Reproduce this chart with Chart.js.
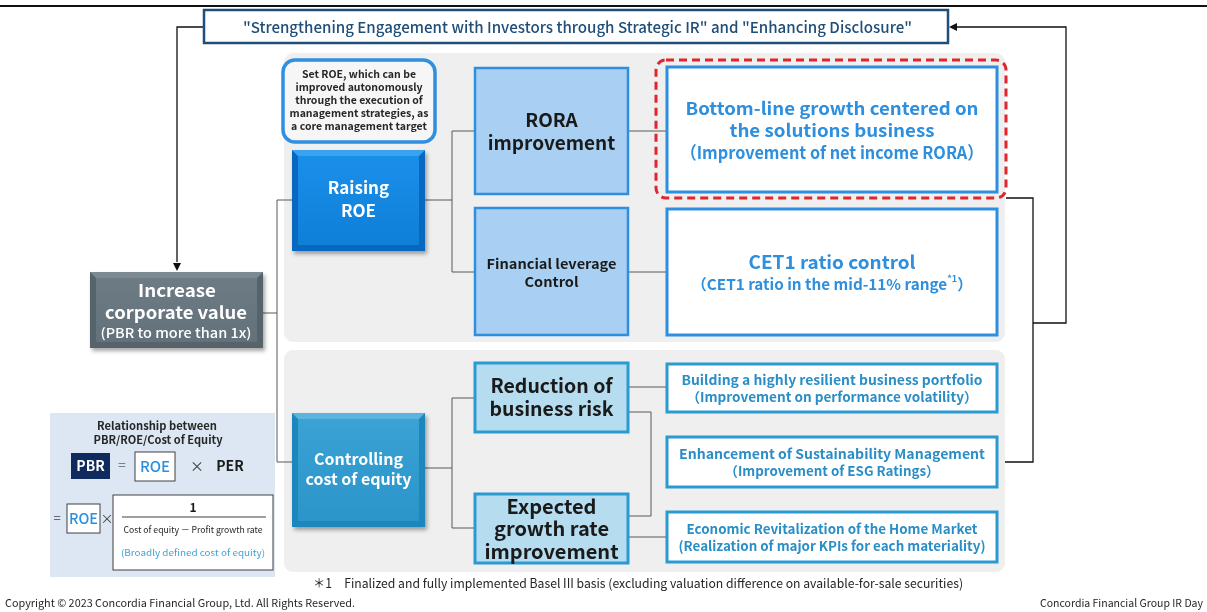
<!DOCTYPE html>
<html>
<head>
<meta charset="utf-8">
<script src="https://cdn.jsdelivr.net/npm/chart.js@4.4.1/dist/chart.umd.min.js"></script>
<style>
  html, body { margin: 0; padding: 0; background: #fff; }
  #wrap { width: 1207px; height: 612px; }
</style>
</head>
<body>
<div id="wrap"><canvas id="diagramChart" width="1207" height="612"></canvas></div>
<script>
// texts of the diagram
const headerText = '"Strengthening Engagement with Investors through Strategic IR" and "Enhancing Disclosure"';
const goalLines = ['Increase', 'corporate value', '(PBR to more than 1x)'];
const calloutLines = ['Set ROE, which can be', 'improved autonomously', 'through the execution of', 'management strategies, as', 'a core management target'];
const leverLines = [['Raising', 'ROE'], ['Controlling', 'cost of equity']];
const roeDrivers = [['RORA', 'improvement'], ['Financial leverage', 'Control']];
const roeTargets = [
  ['Bottom-line growth centered on', 'the solutions business', '（Improvement of net income RORA）'],
  ['CET1 ratio control', '（CET1 ratio in the mid-11% range*1）']
];
const coeDrivers = [['Reduction of', 'business risk'], ['Expected', 'growth rate', 'improvement']];
const coeTargets = [
  ['Building a highly resilient business portfolio', '（Improvement on performance volatility）'],
  ['Enhancement of Sustainability Management', '（Improvement of ESG Ratings）'],
  ['Economic Revitalization of the Home Market', '(Realization of major KPIs for each materiality)']
];
const formulaTitle = ['Relationship between', 'PBR/ROE/Cost of Equity'];
const formulaTerms = ['PBR', 'ROE', 'PER', '1', 'Cost of equity － Profit growth rate', '(Broadly defined cost of equity)'];
const footnote = '＊1　Finalized and fully implemented Basel III basis (excluding valuation difference on available-for-sale securities)';
const copyright = 'Copyright © 2023 Concordia Financial Group, Ltd. All Rights Reserved.';
const eventName = 'Concordia Financial Group IR Day';

// layout in axis units (x0, y0, x1, y1)
const layout = {
  header: [204, 10, 948, 43],
  panels: [[284, 53, 1005, 342], [284, 350, 1005, 572]],
  callout: [283, 60, 435, 142],
  goal: [90, 272, 263, 348],
  levers: [[292, 150, 425, 251], [292, 413, 425, 527]],
  roeDrivers: [[475, 68, 628, 194], [475, 208, 628, 335]],
  focus: [656, 60, 1006, 198],
  roeTargets: [[667, 67, 997, 192], [667, 209, 997, 335]],
  coeDrivers: [[475, 363, 628, 432], [475, 494, 628, 563]],
  coeTargets: [[667, 364, 997, 412], [667, 437, 997, 487], [667, 512, 997, 562]],
  formula: [50, 413, 275, 577]
};
// measured text widths of the original lines, px
const roeTargetWidths = [[293, 205, 303], [167, 281]];
const coeTargetWidths = [[301, 291], [306, 215], [291, 307]];

const JP = '"Noto Sans CJK JP", "Noto Sans", sans-serif';

const diagram = {
  id: 'diagram',
  afterDatasetsDraw(chart) {
    const { ctx, scales: { x, y } } = chart;
    const X = v => x.getPixelForValue(v);
    const Y = v => y.getPixelForValue(v);

    const path = (pts) => {
      ctx.beginPath();
      pts.forEach((p, i) => i ? ctx.lineTo(X(p[0]), Y(p[1])) : ctx.moveTo(X(p[0]), Y(p[1])));
    };
    const line = (pts, color = '#595959', w = 1) => {
      ctx.save(); ctx.strokeStyle = color; ctx.lineWidth = w; path(pts); ctx.stroke(); ctx.restore();
    };
    const arrow = (tx, ty, dir) => {
      ctx.save(); ctx.fillStyle = '#111';
      const px = X(tx), py = Y(ty);
      ctx.beginPath();
      if (dir === 'down') { ctx.moveTo(px, py); ctx.lineTo(px - 4, py - 8); ctx.lineTo(px + 4, py - 8); }
      else { ctx.moveTo(px, py); ctx.lineTo(px + 8, py - 4); ctx.lineTo(px + 8, py + 4); }
      ctx.closePath(); ctx.fill(); ctx.restore();
    };
    const round = (b, r) => {
      ctx.beginPath();
      ctx.roundRect(X(b[0]), Y(b[1]), X(b[2]) - X(b[0]), Y(b[3]) - Y(b[1]), r);
    };
    const box = (b, fill, stroke, w) => {
      ctx.save();
      if (fill) { ctx.fillStyle = fill; ctx.fillRect(X(b[0]), Y(b[1]), X(b[2]) - X(b[0]), Y(b[3]) - Y(b[1])); }
      if (stroke) { ctx.strokeStyle = stroke; ctx.lineWidth = w; ctx.strokeRect(X(b[0]), Y(b[1]), X(b[2]) - X(b[0]), Y(b[3]) - Y(b[1])); }
      ctx.restore();
    };
    const bevel = (b, edge, face, light) => {
      ctx.save();
      ctx.shadowColor = 'rgba(0,0,0,0.35)'; ctx.shadowOffsetX = 2; ctx.shadowOffsetY = 3; ctx.shadowBlur = 4;
      box(b, edge);
      ctx.restore();
      const x0 = X(b[0]), y0 = Y(b[1]), x1 = X(b[2]), y1 = Y(b[3]), d = 6;
      ctx.save();
      ctx.fillStyle = light;
      ctx.beginPath(); ctx.moveTo(x0, y0); ctx.lineTo(x1, y0); ctx.lineTo(x1 - d, y0 + d); ctx.lineTo(x0 + d, y0 + d); ctx.closePath(); ctx.fill();
      const g = ctx.createLinearGradient(0, y0 + d, 0, y1 - d);
      g.addColorStop(0, face[0]); g.addColorStop(1, face[1]);
      ctx.fillStyle = g;
      ctx.fillRect(x0 + d, y0 + d, x1 - x0 - 2 * d, y1 - y0 - 2 * d);
      ctx.restore();
    };
    // draws a line of text; when w is given the text is stretched/condensed to that width
    const text = (str, cx, cy, font, color, align = 'center', w) => {
      ctx.save();
      ctx.font = font; ctx.fillStyle = color; ctx.textBaseline = 'middle';
      if (w) {
        const mw = ctx.measureText(str).width;
        const k = w / mw;
        const left = align === 'center' ? X(cx) - w / 2 : align === 'right' ? X(cx) - w : X(cx);
        ctx.translate(left, Y(cy)); ctx.scale(k, 1);
        ctx.textAlign = 'left'; ctx.fillText(str, 0, 0);
      } else {
        ctx.textAlign = align; ctx.fillText(str, X(cx), Y(cy));
      }
      ctx.restore();
    };
    const lines = (arr, b, font, color, lh, dy = 0, widths) => {
      const cx = (b[0] + b[2]) / 2, cy = (b[1] + b[3]) / 2 + dy;
      arr.forEach((s, i) => text(s, cx, cy + (i - (arr.length - 1) / 2) * lh, font, color, 'center', widths && widths[i]));
    };

    // top rule
    line([[0, 6], [1207, 6]], '#111', 2);

    // connectors: header loop
    line([[204, 27], [177, 27], [177, 262]], '#111', 1.3);
    arrow(177, 271, 'down');
    line([[1006, 198], [1033, 198], [1033, 462], [997, 462]], '#111', 1.3);
    line([[1033, 323], [1066, 323], [1066, 27], [957, 27]], '#111', 1.3);
    arrow(949, 27, 'left');

    // header
    box(layout.header, '#ffffff', '#1f4e79', 2.5);
    text(headerText, 577.5, 27, '500 15px ' + JP, '#1f4e79', 'center', 669);

    // panels
    layout.panels.forEach(p => { ctx.save(); ctx.fillStyle = '#efefef'; round(p, 9); ctx.fill(); ctx.restore(); });

    // tree lines
    line([[263, 313], [277, 313]]);
    line([[277, 200], [277, 462]]);
    line([[277, 200], [292, 200]]);
    line([[277, 462], [292, 462]]);
    line([[425, 200], [452, 200]]);
    line([[452, 131], [452, 272]]);
    line([[452, 131], [475, 131]]);
    line([[452, 272], [475, 272]]);
    line([[628, 131], [667, 131]]);
    line([[628, 272], [667, 272]]);
    line([[425, 468], [452, 468]]);
    line([[452, 398], [452, 528]]);
    line([[452, 398], [475, 398]]);
    line([[452, 528], [475, 528]]);
    line([[628, 387], [667, 387]]);
    line([[628, 412], [651, 412], [651, 516], [628, 516]]);
    line([[628, 537], [667, 537]]);

    // goal box
    bevel(layout.goal, '#56636b', ['#6d7b84', '#63717a'], '#7d8a92');
    text(goalLines[0], 177, 291, 'bold 17px ' + JP, '#ffffff', 'center', 78);
    text(goalLines[1], 176, 313, 'bold 17px ' + JP, '#ffffff', 'center', 142);
    text(goalLines[2], 176, 333, '500 13px ' + JP, '#ffffff', 'center', 151);

    // callout
    ctx.save(); ctx.fillStyle = '#f6f6f6'; ctx.strokeStyle = '#2f8fe0'; ctx.lineWidth = 3.5;
    round(layout.callout, 12); ctx.fill(); ctx.stroke(); ctx.restore();
    lines(calloutLines, layout.callout, 'bold 10.5px ' + JP, '#262626', 13, -0.5);

    // levers
    bevel(layout.levers[0], '#0868c0', ['#1a8fea', '#0f7fd8'], '#3aa3f0');
    lines(leverLines[0], layout.levers[0], 'bold 17px ' + JP, '#ffffff', 23, -1);
    bevel(layout.levers[1], '#1d86bd', ['#3aa2d4', '#2b94c9'], '#5ab4de');
    lines(leverLines[1], layout.levers[1], 'bold 16px ' + JP, '#ffffff', 20, -1);

    // ROE drivers
    layout.roeDrivers.forEach(b => box(b, '#a9d0f2', '#2d8fde', 2.5));
    lines(roeDrivers[0], layout.roeDrivers[0], 'bold 19px ' + JP, '#1a1a1a', 23);
    lines(roeDrivers[1], layout.roeDrivers[1], 'bold 13.5px ' + JP, '#1a1a1a', 18, 1, [130, 54]);

    // ROE targets
    ctx.save(); ctx.strokeStyle = '#e0262c'; ctx.lineWidth = 3; ctx.setLineDash([8, 5]);
    round(layout.focus, 10); ctx.stroke(); ctx.restore();
    layout.roeTargets.forEach(b => box(b, '#ffffff', '#2d8fde', 3));
    lines(roeTargets[0], layout.roeTargets[0], 'bold 17.5px ' + JP, '#2d8fde', 22, 0.5, roeTargetWidths[0]);
    text(roeTargets[1][0], 832, 262, 'bold 18px ' + JP, '#2d8fde', 'center', roeTargetWidths[1][0]);
    // second line with superscript note, stretched to the original width
    ctx.save();
    const f2 = 'bold 15px ' + JP, fs = 'bold 9px ' + JP;
    ctx.textBaseline = 'middle'; ctx.fillStyle = '#2d8fde'; ctx.textAlign = 'left';
    const parts = roeTargets[1][1].split('*1');
    ctx.font = fs; const wSup = ctx.measureText('*1').width;
    ctx.font = f2;
    const w0 = ctx.measureText(parts[0]).width, w1 = ctx.measureText(parts[1]).width;
    const k = roeTargetWidths[1][1] / (w0 + wSup + w1);
    ctx.translate(X(832) - roeTargetWidths[1][1] / 2, 0); ctx.scale(k, 1);
    ctx.fillText(parts[0], 0, Y(284));
    ctx.font = fs; ctx.fillText('*1', w0, Y(279));
    ctx.font = f2; ctx.fillText(parts[1], w0 + wSup, Y(284));
    ctx.restore();

    // cost of equity drivers
    layout.coeDrivers.forEach(b => box(b, '#b6dcf0', '#2a9ad2', 3));
    lines(coeDrivers[0], layout.coeDrivers[0], 'bold 19.5px ' + JP, '#1a1a1a', 23);
    lines(coeDrivers[1], layout.coeDrivers[1], 'bold 20px ' + JP, '#1a1a1a', 22.5);
    layout.coeTargets.forEach((b, i) => {
      box(b, '#ffffff', '#2a9ad2', 3);
      lines(coeTargets[i], b, 'bold 13.5px ' + JP, '#2a8ec6', 17, 0, coeTargetWidths[i]);
    });

    // formula panel
    box(layout.formula, '#dce7f3');
    text(formulaTitle[0], 157, 426, 'bold 11px ' + JP, '#262626', 'center', 120);
    text(formulaTitle[1], 158, 440, 'bold 11px ' + JP, '#262626', 'center', 129);
    box([71, 453, 110, 479], '#0f2a5c');
    text(formulaTerms[0], 90.5, 466, 'bold 14px ' + JP, '#ffffff');
    text('=', 122, 465, '14px ' + JP, '#7f7f7f');
    box([135, 452, 175, 481], '#ffffff', '#404040', 1);
    text(formulaTerms[1], 155, 466, '500 15px ' + JP, '#2d8fde');
    text('×', 197, 466, '14px ' + JP, '#404040');
    text(formulaTerms[2], 230, 466, 'bold 14px ' + JP, '#1a1a1a');
    text('=', 57, 518, '13px ' + JP, '#404040');
    box([67, 504, 100, 533], '#ffffff', '#404040', 1);
    text(formulaTerms[1], 83.5, 518, '500 15px ' + JP, '#2d8fde', 'center', 29);
    text('×', 107, 518, '13px ' + JP, '#404040');
    box([113, 495, 273, 570], '#ffffff', '#404040', 1);
    text(formulaTerms[3], 193, 507, 'bold 12px ' + JP, '#1a1a1a');
    line([[122, 517], [266, 517]], '#404040', 1);
    text(formulaTerms[4], 193, 530, '9px ' + JP, '#262626', 'center', 139);
    text(formulaTerms[5], 193, 553, '9px ' + JP, '#3fa3d6', 'center', 144);

    // footnotes
    text(footnote, 313, 583, '12.5px ' + JP, '#262626', 'left', 650);
    text(copyright, 5, 603, '11px ' + JP, '#262626', 'left', 350);
    text(eventName, 1203, 603, '11px ' + JP, '#262626', 'right', 163);
  }
};

new Chart(document.getElementById('diagramChart'), {
  type: 'scatter',
  data: { datasets: [{ data: [] }] },
  options: {
    responsive: false,
    animation: false,
    layout: { padding: 0 },
    plugins: { legend: { display: false }, tooltip: { enabled: false } },
    scales: {
      x: { type: 'linear', min: 0, max: 1207, display: false },
      y: { type: 'linear', min: 0, max: 612, reverse: true, display: false }
    }
  },
  plugins: [diagram]
});
</script>
</body>
</html>
